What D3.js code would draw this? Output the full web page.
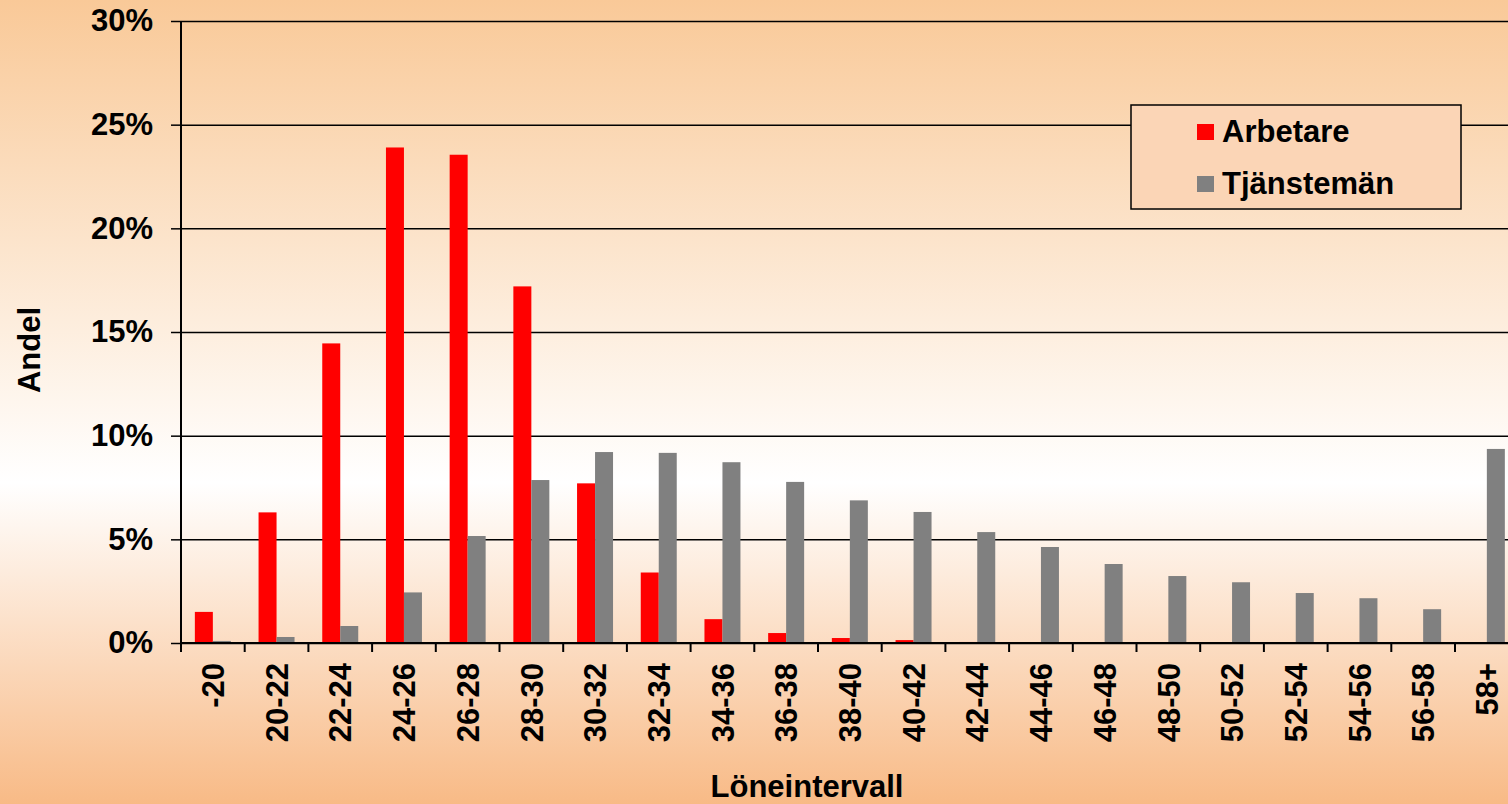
<!DOCTYPE html>
<html>
<head>
<meta charset="utf-8">
<script src="https://cdn.jsdelivr.net/npm/d3@7"></script>
<style>
  body { margin: 0; }
  svg { display: block; font-family: "Liberation Sans", Arial, sans-serif; }
</style>
</head>
<body>
<svg id="chart" width="1508" height="804"></svg>
<script>
// data (percent)
const categories = ["-20", "20-22", "22-24", "24-26", "26-28", "28-30", "30-32", "32-34", "34-36", "36-38", "38-40",
  "40-42", "42-44", "44-46", "46-48", "48-50", "50-52", "52-54", "54-56", "56-58", "58+"];
const arbetare = [1.5, 6.3, 14.45, 23.9, 23.55, 17.2, 7.7, 3.4, 1.15, 0.48, 0.24,
  0.14, 0.05, 0.03, 0, 0, 0, 0, 0, 0, 0];
const tjanstemän = [0.1, 0.29, 0.82, 2.44, 5.16, 7.86, 9.21, 9.17, 8.72, 7.77, 6.88,
  6.32, 5.35, 4.63, 3.81, 3.23, 2.93, 2.41, 2.16, 1.63, 9.36];
const seriesNames = ["Arbetare", "Tjänstemän"];
const yTicks = [0, 5, 10, 15, 20, 25, 30];

let svg = d3.select("#chart");
let W = 1508, H = 804;
let plotLeft = 181, plotTop = 21, plotBottom = 643;
let step = 63.7;

// background gradient
let defs = svg.append("defs");
let grad = defs.append("linearGradient").attr("id", "bg")
  .attr("x1", 0).attr("y1", 0).attr("x2", 0).attr("y2", 1);
grad.append("stop").attr("offset", "0%").attr("stop-color", "#F9C998");
grad.append("stop").attr("offset", "60%").attr("stop-color", "#FFFFFF");
grad.append("stop").attr("offset", "100%").attr("stop-color", "#F8BA86");
svg.append("rect").attr("width", W).attr("height", H).attr("fill", "url(#bg)");

let xScale = d3.scaleBand()
  .domain(categories)
  .range([plotLeft, plotLeft + step * categories.length])
  .paddingInner(0).paddingOuter(0);
let xSub = d3.scaleBand()
  .domain(seriesNames)
  .range([0, xScale.bandwidth()])
  .paddingInner(0).paddingOuter(0.77);
let yScale = d3.scaleLinear()
  .domain([0, 30])
  .range([plotBottom, plotTop]);
let colors = { "Arbetare": "#FF0000", "Tjänstemän": "#808080" };

// gridlines
let grid = d3.axisLeft(yScale).tickValues(yTicks).tickSize(-(W - plotLeft)).tickFormat("");
svg.append("g")
  .attr("transform", "translate(" + plotLeft + ",0)")
  .call(grid)
  .call(g => g.select(".domain").remove())
  .selectAll("line").attr("stroke", "#000").attr("stroke-width", 1.5);

// bars
let rows = categories.map((c, i) => ({ cat: c, vals: [
  { name: "Arbetare", v: arbetare[i] },
  { name: "Tjänstemän", v: tjanstemän[i] }] }));
let groups = svg.append("g").selectAll("g").data(rows).enter().append("g")
  .attr("transform", d => "translate(" + xScale(d.cat) + ",0)");
groups.selectAll("rect").data(d => d.vals).enter().append("rect")
  .attr("x", d => xSub(d.name))
  .attr("y", d => yScale(d.v))
  .attr("width", xSub.bandwidth())
  .attr("height", d => plotBottom - yScale(d.v))
  .attr("fill", d => colors[d.name]);

// y axis
let yAxis = d3.axisLeft(yScale).tickValues(yTicks).tickSize(10).tickPadding(18)
  .tickFormat(d => d + "%");
let yg = svg.append("g")
  .attr("transform", "translate(" + plotLeft + ",0)")
  .call(yAxis);
yg.select(".domain").attr("d", "M0," + plotTop + "V" + (plotBottom + 8)).attr("stroke", "#000").attr("stroke-width", 2);
yg.selectAll("line").attr("stroke", "#000").attr("stroke-width", 1.5);
yg.selectAll("text").attr("fill", "#000").style("font-size", "31px").style("font-weight", "bold");

// x axis line and boundary ticks
svg.append("line")
  .attr("x1", plotLeft).attr("x2", W).attr("y1", plotBottom).attr("y2", plotBottom)
  .attr("stroke", "#000").attr("stroke-width", 2);
svg.append("g").selectAll("line").data(categories).enter().append("line")
  .attr("x1", d => xScale(d)).attr("x2", d => xScale(d))
  .attr("y1", plotBottom).attr("y2", plotBottom + 9)
  .attr("stroke", "#000").attr("stroke-width", 2);

// x labels
let xAxis = d3.axisBottom(xScale).tickSize(0).tickPadding(0);
let xg = svg.append("g")
  .attr("transform", "translate(0," + plotBottom + ")")
  .call(xAxis);
xg.select(".domain").remove();
xg.selectAll("text")
  .attr("transform", "rotate(-90)")
  .attr("x", -20)
  .attr("y", 0)
  .attr("dy", "0.36em")
  .attr("text-anchor", "end")
  .attr("fill", "#000")
  .style("font-size", "31px")
  .style("font-weight", "bold");

// axis titles
svg.append("text")
  .attr("transform", "translate(40,350) rotate(-90)")
  .attr("text-anchor", "middle")
  .style("font-size", "31px").style("font-weight", "bold")
  .text("Andel");
svg.append("text")
  .attr("x", 807).attr("y", 797)
  .attr("text-anchor", "middle")
  .style("font-size", "31px").style("font-weight", "bold")
  .text("Löneintervall");

// legend
let legend = svg.append("g").attr("transform", "translate(1131,105)");
legend.append("rect")
  .attr("width", 330).attr("height", 104)
  .attr("fill", "#FBD5B6").attr("stroke", "#000").attr("stroke-width", 1.5);
let items = legend.selectAll("g.item").data(seriesNames).enter().append("g")
  .attr("class", "item")
  .attr("transform", (d, i) => "translate(0," + (i * 52) + ")");
items.append("rect")
  .attr("x", 66).attr("y", 19).attr("width", 17).attr("height", 16)
  .attr("fill", d => colors[d]);
items.append("text")
  .attr("x", 91).attr("y", 37)
  .style("font-size", "31px").style("font-weight", "bold")
  .text(d => d);
</script>
</body>
</html>
